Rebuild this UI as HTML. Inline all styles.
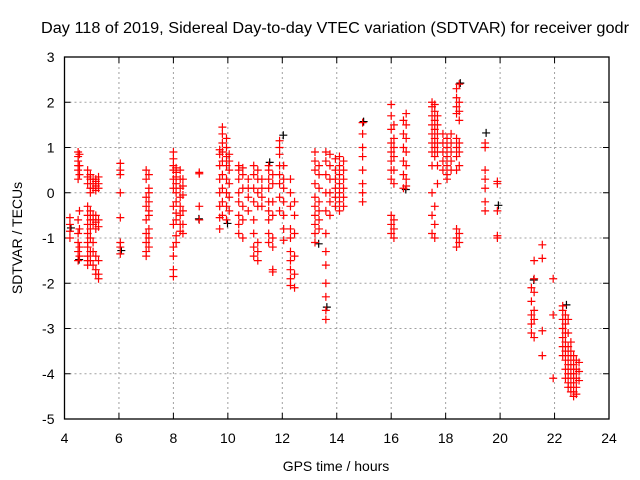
<!DOCTYPE html>
<html><head><meta charset="utf-8"><style>
html,body{margin:0;padding:0;background:#fff;}
svg{display:block;font-family:"Liberation Sans",sans-serif;}
</style></head><body>
<svg id="chart" width="640" height="480" viewBox="0 0 640 480">
<rect width="640" height="480" fill="#fff"/>
<text x="41" y="33" font-size="15.5" textLength="588" lengthAdjust="spacingAndGlyphs" fill="#000">Day 118 of 2019, Sidereal Day-to-day VTEC variation (SDTVAR) for receiver godr</text>
<text transform="translate(22,238) rotate(-90)" text-anchor="middle" font-size="14">SDTVAR / TECUs</text>
<text x="336" y="471" text-anchor="middle" font-size="14">GPS time / hours</text>
<g id="grid"></g><g id="axes"></g><g id="pts"></g>
</svg>
<script>
const xTicks=[4,6,8,10,12,14,16,18,20,22,24];
const yTicks=[3,2,1,0,-1,-2,-3,-4,-5];
// columns of red points: time (hours) and list of SDTVAR values
const colTimes=[4.2,4.5,4.55,4.85,4.95,5.05,5.15,5.25,6.05,7.0,7.1,8.0,8.1,8.25,8.35,8.95,9.7,9.8,9.95,10.05,10.4,10.55,10.75,10.95,11.1,11.25,11.5,11.65,11.9,12.05,12.3,12.45,13.2,13.35,13.6,13.75,13.95,14.1,14.25,14.95,16.0,16.1,16.45,16.55,17.5,17.6,17.7,17.9,18.05,18.2,18.4,18.5,19.45,19.9,21.15,21.25,21.55,21.95,22.3,22.4,22.5,22.6,22.7,22.8,22.9];
const colValues=[
[-0.55,-0.7,-0.85,-1.0],
[0.9,0.8,0.7,0.6,0.5,0.3,-0.6,-0.9,-1.1,-1.3,-1.5],
[0.85,0.6,0.4,-0.4,-0.8,-1.2,-1.4],
[0.5,0.35,0.2,-0.3,-0.5,-0.7,-0.9,-1.1,-1.2,-1.4,-1.5,-1.6],
[0.4,0.3,0.1,0.0,-0.4,-0.6,-0.8,-1.0,-1.3,-1.5],
[0.3,0.2,0.1,-0.5,-0.6,-0.7,-1.1,-1.3,-1.6],
[0.3,0.25,0.15,0.05,-0.5,-0.65,-0.8,-1.4,-1.7,-1.8],
[0.35,0.2,0.1,-0.6,-0.75,-1.5,-1.8,-1.9],
[0.65,0.5,0.4,0.0,-0.55,-1.1,-1.2,-1.35],
[0.5,0.3,-0.1,-0.3,-0.6,-0.9,-1.1,-1.3,-1.4],
[0.4,0.1,0.0,-0.2,-0.4,-0.5,-0.8,-1.0,-1.2],
[0.9,0.75,0.6,0.5,0.3,0.1,-0.3,-0.7,-1.2,-1.4,-1.7,-1.85],
[0.55,0.45,0.35,0.2,0.0,-0.2,-0.45,-0.6,-0.95,-1.1],
[0.5,0.3,0.1,-0.1,-0.3,-0.5,-0.7,-0.85],
[0.3,0.15,-0.05,-0.4,-0.7,-0.9],
[0.45,0.42,-0.3,-0.6],
[0.95,0.85,0.6,0.3,0.0,-0.3,-0.55,-0.8],
[1.45,1.3,1.1,0.9,0.7,0.4,0.1,-0.2,-0.5],
[1.2,1.0,0.8,0.6,0.3,0.0,-0.3,-0.6],
[0.85,0.7,0.5,0.2,-0.1,-0.4],
[0.6,0.5,0.3,0.0,-0.2,-0.5,-0.7,-0.9],
[0.55,0.4,0.1,-0.3,-0.6,-1.0],
[0.3,0.1,-0.1,-0.4],
[0.6,0.4,0.1,-0.2,-0.6,-0.9,-1.2,-1.4],
[0.5,0.3,0.0,-0.3,-1.1,-1.3,-1.5],
[0.3,0.1,-0.1,-0.3],
[0.6,0.5,0.3,0.1,-0.2,-0.4,-0.6,-0.9,-1.1],
[0.4,0.2,-0.2,-0.5,-1.0,-1.2,-1.7,-1.75],
[1.15,1.0,0.85,0.6,0.4,0.2,-0.1,-0.4],
[0.6,0.3,0.1,-0.2,-0.5,-0.8,-1.05],
[0.3,0.0,-0.3,-0.8,-1.0,-1.3,-1.5,-1.7,-1.9,-2.05],
[-0.2,-0.5,-0.9,-1.4,-1.8,-2.1],
[0.9,0.7,0.5,0.2,-0.1,-0.3,-0.5,-0.7,-0.9,-1.1],
[0.6,0.4,0.1,-0.2,-0.4,-0.6,-0.8],
[0.9,0.7,0.4,0.0,-0.4,-0.9,-1.3,-1.6,-2.0,-2.3,-2.6,-2.8],
[0.85,0.6,0.3,0.0,-0.2,-0.5],
[0.75,0.5,0.3,0.1,-0.1,-0.3],
[0.8,0.6,0.4,0.2,0.0,-0.2,-0.4],
[0.7,0.5,0.3,0.1,-0.1,-0.3],
[1.55,1.3,1.0,0.8,0.5,0.2,0.0,-0.2],
[1.95,1.7,1.4,1.1,0.9,0.7,0.5,0.3,-0.5,-0.7,-0.9],
[1.5,1.2,1.0,0.8,0.5,0.2,-0.6,-0.8,-1.0],
[1.6,1.3,1.0,0.7,0.4,0.1],
[1.75,1.5,1.2,0.9,0.6,0.3,0.15],
[2.0,1.9,1.7,1.5,1.3,1.1,0.9,0.6,0.0,-0.5,-0.9],
[1.95,1.8,1.6,1.4,1.2,1.0,0.8,-0.3,-0.7,-1.0],
[1.7,1.5,1.3,1.1,0.9,0.6,0.2],
[1.3,1.1,0.9,0.7,0.5],
[1.2,1.0,0.8,0.6,0.4,0.3],
[1.3,1.1,0.9,0.7,0.5],
[2.3,2.1,1.9,1.75,1.2,1.0,0.8,0.5,-0.8,-1.0,-1.2],
[2.4,2.0,1.8,1.6,1.1,0.9,0.6,-0.9,-1.1],
[1.1,1.0,0.5,0.3,0.1,-0.2,-0.4],
[0.25,0.2,-0.4,-0.95,-1.0],
[-2.1,-2.4,-2.7,-2.9,-3.1],
[-1.5,-1.9,-2.2,-2.6,-2.8,-3.2],
[-1.15,-1.45,-3.05,-3.6],
[-1.9,-2.7,-4.1],
[-2.5,-2.6,-2.8,-3.0,-3.2,-3.4,-3.6],
[-2.7,-2.9,-3.1,-3.3,-3.5,-3.7,-3.9,-4.1],
[-2.8,-3.1,-3.4,-3.6,-3.8,-4.0,-4.2,-4.3],
[-3.3,-3.5,-3.7,-3.9,-4.1,-4.3,-4.4],
[-3.6,-3.8,-4.0,-4.2,-4.4,-4.5],
[-3.7,-3.9,-4.1,-4.3,-4.45],
[-3.75,-3.95,-4.15]
];
// black (second series) points
const blackTimes=[4.2,4.5,6.05,8.9,9.95,11.5,12.0,13.3,13.6,14.95,16.5,18.5,19.45,19.9,21.2,22.4];
const blackValues=[-0.8,-1.5,-1.3,-0.6,-0.7,0.65,1.25,-1.15,-2.55,1.55,0.05,2.4,1.3,-0.3,-1.95,-2.5];

const X0=64.5,X1=609,Y0=57,Y1=419;
const sx=v=>X0+(v-4)/20*(X1-X0);
const sy=v=>Y0+(3-v)/8*(Y1-Y0);
const NS='http://www.w3.org/2000/svg';
const grid=document.getElementById('grid'),axes=document.getElementById('axes'),pts=document.getElementById('pts');
function mk(tag,attrs,parent){const e=document.createElementNS(NS,tag);for(const k in attrs)e.setAttribute(k,attrs[k]);parent.appendChild(e);return e;}
xTicks.forEach(t=>{
  const x=sx(t);
  if(t>4&&t<24){const g=mk('line',{x1:x,y1:Y0,x2:x,y2:Y1,stroke:'#a0a0a0','stroke-dasharray':'2,3'},grid);
  
  }
  mk('line',{x1:x,y1:Y1,x2:x,y2:Y1-6,stroke:'#000'},axes);
  mk('line',{x1:x,y1:Y0,x2:x,y2:Y0+6,stroke:'#000'},axes);
  const l=mk('text',{x:x,y:Y1+24,'text-anchor':'middle','font-size':14},axes);
  l.textContent=t;
  
  
});
yTicks.forEach(t=>{
  const y=sy(t);
  if(t<3&&t>-5){const g=mk('line',{x1:X0,y1:y,x2:X1,y2:y,stroke:'#a0a0a0','stroke-dasharray':'2,3'},grid);
  
  }
  mk('line',{x1:X0,y1:y,x2:X0+6,y2:y,stroke:'#000'},axes);
  mk('line',{x1:X1,y1:y,x2:X1-6,y2:y,stroke:'#000'},axes);
  const l=mk('text',{x:X0-10,y:y+5,'text-anchor':'end','font-size':14},axes);
  l.textContent=t;
  
  
});
const frame=mk('rect',{x:X0,y:Y0,width:X1-X0,height:Y1-Y0,fill:'none',stroke:'#000','stroke-width':1.3},axes);


function plus(x,y,c){const p=mk('path',{d:`M${x-4},${y}h8M${x},${y-4}v8`,stroke:c,'stroke-width':1.2,fill:'none'},pts);return p;}
blackTimes.forEach((t,i)=>{
  const p=plus(sx(t)+1,sy(blackValues[i])-1,'#000');
  
  
});
colTimes.forEach((t,i)=>{
  colValues[i].forEach(v=>{
    const p=plus(sx(t),sy(v),'#ff0000');
    
    
  });
});
</script>
</body></html>
